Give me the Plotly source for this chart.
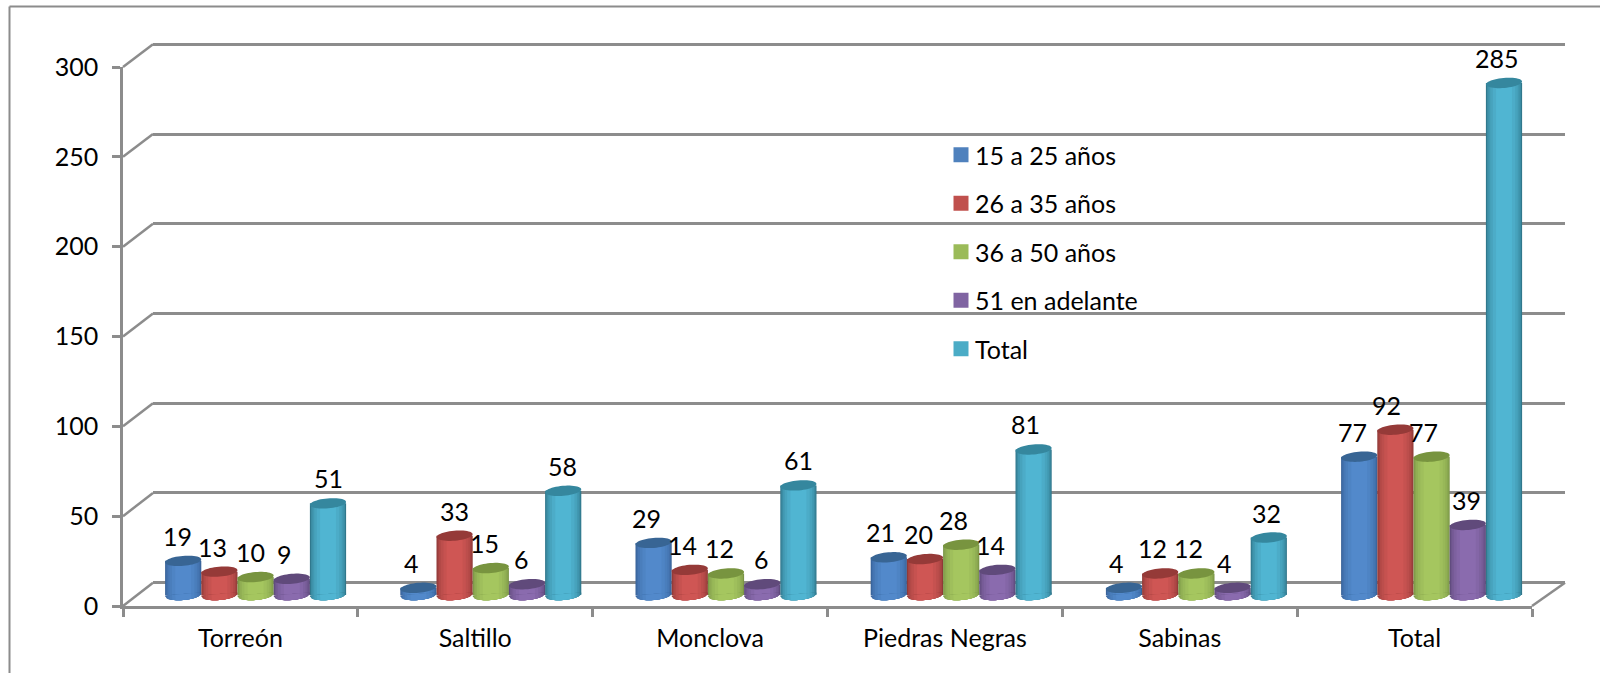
import math
import plotly.graph_objects as go

# ---------- data ----------
CATEGORIES = ["Torreón", "Saltillo", "Monclova", "Piedras Negras", "Sabinas", "Total"]
SERIES_NAMES = ["15 a 25 años", "26 a 35 años", "36 a 50 años", "51 en adelante", "Total"]
V_15_25 = [19, 4, 29, 21, 4, 77]
V_26_35 = [13, 33, 14, 20, 12, 92]
V_36_50 = [10, 15, 12, 28, 12, 77]
V_51 = [9, 6, 6, 14, 4, 39]
V_TOTAL = [51, 58, 61, 81, 32, 285]
Y_TICKS = [0, 50, 100, 150, 200, 250, 300]

# ---------- style ----------
W, H = 1600, 673
FONT = "Lato, Carlito, Calibri, sans-serif"
FS = 25
GRID = "#8c8c8c"
TEXT = "#000000"
#           legend,    edge,      centre,    cap
PALETTE = [("#4f81bd", "#39639a", "#5289cb", "#386594"),
           ("#c0504d", "#913a38", "#cf5654", "#953a38"),
           ("#9bbb59", "#7b9647", "#a5c65f", "#78943f"),
           ("#8064a2", "#5f4a7b", "#8a6bae", "#604a7b"),
           ("#4bacc6", "#31788d", "#50b5d2", "#35879e")]
LABEL_NUDGE = [[-6, -7, -5, -7, 0],
               [-7, 0, -6, -6, -1],
               [-7, -7, -7, -1, 0],
               [-8, -7, -8, -7, -8],
               [-8, -8, -8, -8, -2],
               [-7, -9, -8, -1, -7]]

SERIES = [V_15_25, V_26_35, V_36_50, V_51, V_TOTAL]


def px(x):
    return x / W


def py(y):
    return 1 - y / H


def mix(a, b, t):
    ca = [int(a[i:i + 2], 16) for i in (1, 3, 5)]
    cb = [int(b[i:i + 2], 16) for i in (1, 3, 5)]
    return "#" + "".join(f"{round(p + (q - p) * t):02x}" for p, q in zip(ca, cb))


# pixel geometry of the pseudo-3D box
FRONT_L, FRONT_R, FRONT_B, FRONT_T = 123.0, 1532.0, 606.0, 67.0
BACK_L, BACK_R, BACK_B, BACK_T = 153.0, 1565.0, 582.7, 44.3
BAR_ORIGIN, BAR_STEP, BAR_BASE = 138.0, 235.2, 595.0
BAR_W = 36.2
UNIT = (FRONT_B - FRONT_T) / 300
BACK_UNIT = (BACK_B - BACK_T) / 300
BACK_PAD = 3.0          # pixels of wall beyond 0 and 300, so both end gridlines are drawn
STRIPS = [1.0, 0.94, 0.86, 0.76, 0.62, 0.44]
A, B, TILT = BAR_W / 2, 5.0, math.radians(5)


def rot(x, y):
    return (x * math.cos(TILT) - y * math.sin(TILT),
            x * math.sin(TILT) + y * math.cos(TILT))


def poly(points):
    return "M" + "L".join(f"{x:.2f},{y:.2f}" for x, y in points) + "Z"


def full_ellipse():
    return poly([rot(A * math.cos(t * math.pi / 24), B * math.sin(t * math.pi / 24)) for t in range(48)])


def lower_half(frac):
    pts = []
    n = 14
    for k in range(n + 1):
        x = -A * frac + 2 * A * frac * k / n
        pts.append(rot(x, -B * math.sqrt(max(0, 1 - (x / A) ** 2))))
    pts.append(rot(A * frac, 1))
    pts.append(rot(-A * frac, 1))
    return poly(pts)


fig = go.Figure()

# back wall: its horizontal gridlines come from this subplot (x, y)
fig.add_trace(go.Scatter(x=[0], y=[0], xaxis="x", yaxis="y", mode="markers",
                         marker=dict(opacity=0), showlegend=False, hoverinfo="skip"))

# cylinders (x2, y2): nested bars form the shading
step_w = BAR_W / BAR_STEP
shapes = []
for s, (vals, pal) in enumerate(zip(SERIES, PALETTE)):
    centres = [i + 0.5 + (s - 2) * step_w for i in range(len(vals))]
    for k, frac in enumerate(STRIPS):
        col = mix(pal[1], pal[2], (k / (len(STRIPS) - 1)) ** 0.7)
        fig.add_trace(go.Bar(x=centres, y=vals, width=step_w * frac, xaxis="x2", yaxis="y2",
                             marker=dict(color=col, line=dict(width=0)),
                             showlegend=False, hoverinfo="skip"))
        for c in centres:
            shapes.append(dict(type="path", path=lower_half(frac), xref="x2", yref="y2",
                               xsizemode="pixel", ysizemode="pixel", xanchor=c, yanchor=0,
                               fillcolor=col, line=dict(width=0), layer="above"))
    for c, v in zip(centres, vals):
        shapes.append(dict(type="path", path=full_ellipse(), xref="x2", yref="y2",
                           xsizemode="pixel", ysizemode="pixel", xanchor=c, yanchor=v,
                           fillcolor=pal[3], line=dict(width=0), layer="above"))

# front axes (x3, y3)
fig.add_trace(go.Scatter(x=CATEGORIES, y=[0] * len(CATEGORIES), xaxis="x3", yaxis="y3", mode="markers",
                         marker=dict(opacity=0), showlegend=False, hoverinfo="skip"))

# legend entries
for name, pal in zip(SERIES_NAMES, PALETTE):
    fig.add_trace(go.Scatter(x=[None], y=[None], xaxis="x3", yaxis="y3", mode="markers", name=name,
                             legendgroup=name,
                             marker=dict(symbol="square", size=15, color=pal[0], line=dict(width=0))))

# value labels
annotations = []
for i in range(len(CATEGORIES)):
    for s, vals in enumerate(SERIES):
        annotations.append(dict(x=i + 0.5 + (s - 2) * step_w, y=vals[i], xref="x2", yref="y2",
                                text=str(vals[i]), showarrow=False, xanchor="center", yanchor="middle",
                                xshift=LABEL_NUDGE[i][s], yshift=25,
                                font=dict(family=FONT, size=FS, color=TEXT)))

# wall diagonals and outer frame
for t in Y_TICKS:
    f = t / 300
    shapes.append(dict(type="line", xref="paper", yref="paper", layer="below",
                       x0=px(FRONT_L), x1=px(BACK_L),
                       y0=py(FRONT_B + (FRONT_T - FRONT_B) * f), y1=py(BACK_B + (BACK_T - BACK_B) * f),
                       line=dict(color=GRID, width=2.5)))
shapes.append(dict(type="line", xref="paper", yref="paper", layer="below",
                   x0=px(FRONT_R), x1=px(BACK_R), y0=py(FRONT_B), y1=py(BACK_B),
                   line=dict(color=GRID, width=2.5)))
shapes.append(dict(type="line", xref="paper", yref="paper", layer="below",
                   x0=px(9.5), x1=px(9.5), y0=0, y1=py(6.5), line=dict(color=GRID, width=2)))
shapes.append(dict(type="line", xref="paper", yref="paper", layer="below",
                   x0=px(9.5), x1=1, y0=py(6.5), y1=py(6.5), line=dict(color=GRID, width=2)))

hidden = dict(visible=False, showgrid=False, zeroline=False)
font = dict(family=FONT, size=FS, color=TEXT)
fig.update_layout(
    width=W, height=H, margin=dict(l=0, r=0, t=0, b=0, autoexpand=False),
    paper_bgcolor="white", plot_bgcolor="rgba(0,0,0,0)",
    barmode="overlay", font=font, shapes=shapes, annotations=annotations,
    # back wall
    xaxis=dict(domain=[px(BACK_L), px(BACK_R)], range=[0, 1], **hidden),
    yaxis=dict(domain=[py(BACK_B + BACK_PAD), py(BACK_T - BACK_PAD)],
               range=[-BACK_PAD / BACK_UNIT, 300 + BACK_PAD / BACK_UNIT], anchor="x", visible=True,
               showticklabels=False, ticks="", showline=False, tickvals=Y_TICKS,
               showgrid=True, gridcolor=GRID, gridwidth=2.5, zeroline=False),
    # cylinders
    xaxis2=dict(domain=[px(FRONT_L), px(BACK_R)], anchor="y2",
                range=[(FRONT_L - BAR_ORIGIN) / BAR_STEP, (BACK_R - BAR_ORIGIN) / BAR_STEP], **hidden),
    yaxis2=dict(domain=[py(FRONT_B + 8), py(BACK_T)], anchor="x2",
                range=[(BAR_BASE - FRONT_B - 8) / UNIT, (BAR_BASE - BACK_T) / UNIT], **hidden),
    # front axes
    xaxis3=dict(domain=[px(FRONT_L), px(FRONT_R)], anchor="y3", type="category",
                categoryorder="array", categoryarray=CATEGORIES, range=[-0.5, 5.5],
                tickson="boundaries", ticks="outside", ticklen=8, tickwidth=2.5, tickcolor=GRID,
                showline=True, linecolor=GRID, linewidth=3, showgrid=False, zeroline=False,
                ticklabelstandoff=8, tickfont=font),
    yaxis3=dict(domain=[py(FRONT_B), py(FRONT_T)], anchor="x3", range=[0, 300], tickvals=Y_TICKS,
                ticks="outside", ticklen=8, tickwidth=2.5, tickcolor=GRID,
                showline=True, linecolor=GRID, linewidth=2.5, showgrid=False, zeroline=False,
                ticklabelstandoff=9, tickfont=font),
    legend=dict(x=px(941), y=py(132), xanchor="left", yanchor="top", bgcolor="rgba(0,0,0,0)",
                font=font, tracegroupgap=13, itemclick=False, itemdoubleclick=False,
                itemwidth=30, traceorder="grouped"),
)

POST = """document.body.style.margin='0';
document.documentElement.style.overflow='hidden';
document.querySelectorAll('.legendtext').forEach(function(t){
  t.setAttribute('x', parseFloat(t.getAttribute('x')) - 6);
});"""
fig.write_html("out.html", config={"displayModeBar": False}, post_script=POST)
